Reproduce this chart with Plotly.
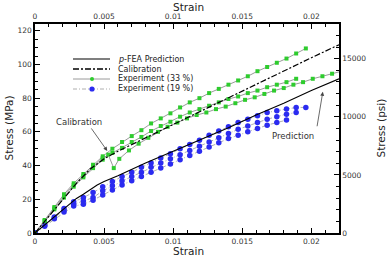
import plotly.graph_objects as go

# ---------------- data ----------------
pred_strain = [0, 0.001, 0.002, 0.003, 0.0035, 0.004, 0.0045, 0.005, 0.006, 0.008, 0.010, 0.012, 0.014, 0.016, 0.018, 0.020, 0.022]
pred_stress = [0, 7, 14, 20.5, 23, 26, 28.5, 30.5, 34, 41.5, 48.5, 55.5, 62.5, 70, 77, 84.5, 91.5]

cal_strain = [0, 0.001, 0.002, 0.003, 0.004, 0.005, 0.006, 0.007, 0.008, 0.009, 0.010, 0.012, 0.014, 0.016, 0.018, 0.020, 0.022]
cal_stress = [0, 10, 20, 29.5, 38, 44, 48.5, 52.5, 56.5, 60.5, 64.5, 72.3, 80, 88, 96, 104, 111.7]

g1_strain = [0, 0.0007, 0.0014, 0.0021, 0.0028, 0.0035, 0.0042, 0.0049, 0.0056, 0.0063, 0.0070, 0.0077, 0.0084, 0.0091,
             0.0098, 0.0105, 0.0112, 0.0119, 0.0126, 0.0133, 0.0140, 0.0147, 0.0154, 0.0161, 0.0168, 0.0175, 0.0182, 0.0189, 0.0196]
g1_stress = [0, 7.7, 15.4, 23, 29.5, 35, 40.5, 45.5, 50, 54, 57.5, 61, 65, 68,
             71, 74.5, 77.5, 80, 83, 85.5, 88, 90.5, 93, 96, 98.5, 101, 103.5, 106.5, 109.5]

g2_strain = [0, 0.0007, 0.0014, 0.0021, 0.0028, 0.0035, 0.0042, 0.0049, 0.0056, 0.0063, 0.0070, 0.0077, 0.0084, 0.0091,
             0.0098, 0.0105, 0.0112, 0.0119, 0.0126, 0.0133, 0.0140, 0.0147, 0.0154, 0.0161, 0.0168, 0.0175, 0.0182, 0.0189]
g2_stress = [0, 7.3, 14.7, 22, 28.5, 34, 39.5, 44.5, 47.5, 50.5, 54, 57, 60.5, 63.5,
             66, 69, 71.5, 73.5, 75.5, 77.5, 79.5, 81, 83, 84.5, 86.5, 88, 89.5, 91.5]

g3_strain = [0, 0.0007, 0.0014, 0.0021, 0.0028, 0.0035, 0.0042, 0.0049, 0.0053, 0.0057, 0.0061, 0.0068, 0.0075, 0.0082,
             0.0089, 0.0096, 0.0103, 0.0110, 0.0117, 0.0124, 0.0131, 0.0138, 0.0145, 0.0152, 0.0159, 0.0166, 0.0173,
             0.0180, 0.0187, 0.0194, 0.0201, 0.0208, 0.0215, 0.0222]
g3_stress = [0, 7, 14, 21, 27.5, 33, 38.5, 43.5, 46.5, 38.5, 44, 49, 53, 56.5,
             60, 63, 65.5, 68, 70, 71.5, 73.5, 75, 77, 79, 80.5, 82.5, 84.5,
             86, 88, 89.5, 91.5, 93, 94.5, 96]

b1_strain = [0, 0.0007, 0.0014, 0.0021, 0.0028, 0.0035, 0.0042, 0.0049, 0.0056, 0.0063, 0.0070, 0.0077, 0.0084, 0.0091,
             0.0098, 0.0105, 0.0112, 0.0119, 0.0126, 0.0133, 0.0140, 0.0147, 0.0154, 0.0161, 0.0168, 0.0175, 0.0182, 0.0189, 0.0196]
b1_stress = [0, 5, 9.5, 14.5, 18.5, 21, 24, 27.5, 30.5, 33.5, 36, 39, 41.5, 44.5,
             47, 50, 52.5, 55, 58, 60.5, 63, 65.5, 67.5, 69.5, 71.5, 72.5, 73.5, 74.5, 74.5]

b2_strain = [0, 0.0007, 0.0014, 0.0021, 0.0028, 0.0035, 0.0042, 0.0049, 0.0056, 0.0063, 0.0070, 0.0077, 0.0084, 0.0091,
             0.0098, 0.0105, 0.0112, 0.0119, 0.0126, 0.0133, 0.0140, 0.0147, 0.0154, 0.0161, 0.0168, 0.0175, 0.0182, 0.0189]
b2_stress = [0, 4.5, 9, 13.5, 17, 19, 21, 25, 28, 31, 33.5, 36, 39, 41.5,
             44, 46.5, 49, 51.5, 54, 56.5, 59, 61.5, 63.5, 65.5, 67.5, 69, 70.5, 71.5]

b3_strain = [0, 0.0007, 0.0014, 0.0021, 0.0028, 0.0035, 0.0042, 0.0049, 0.0056, 0.0063, 0.0070, 0.0077, 0.0084, 0.0091,
             0.0098, 0.0105, 0.0112, 0.0119, 0.0126, 0.0133, 0.0140, 0.0147, 0.0154, 0.0161, 0.0168, 0.0175, 0.0182]
b3_stress = [0, 4, 8.5, 12.5, 16, 17, 19.5, 22.5, 25.5, 28.5, 31, 33.5, 36, 38.5,
             41, 43.5, 46, 48.5, 51, 53.5, 56, 58, 60, 62, 64, 65.5, 67]

x_ticks = [0, 0.005, 0.01, 0.015, 0.02]
x_ticklabels = ["0", "0.005", "0.01", "0.015", "0.02"]
y_ticks = [0, 20, 40, 60, 80, 100, 120]
psi_ticks = [0, 5000, 10000, 15000]
psi_ticklabels = ["0", "5000", "10000", "15000"]
MPA_TO_PSI = 145.038
Y_MAX = 124
X_MAX = 0.022

legend_labels = ["<i>p</i>-FEA Prediction", "Calibration", "Experiment (33 %)", "Experiment (19 %)"]

# ---------------- figure ----------------
FONT = "DejaVu Sans"
GREEN = "#2ecc2e"
BLUE = "#2b2bf0"
GREYLINE = "#9a9a9a"

fig = go.Figure()

for xs, ys in [(b1_strain, b1_stress), (b2_strain, b2_stress), (b3_strain, b3_stress)]:
    fig.add_trace(go.Scatter(x=xs, y=ys, mode="lines+markers",
                             line=dict(color=GREYLINE, width=0.8, dash="4px,2px,1px,2px"),
                             marker=dict(color=BLUE, size=5.5, line=dict(width=0)),
                             showlegend=False, hoverinfo="skip"))

for xs, ys in [(g1_strain, g1_stress), (g2_strain, g2_stress), (g3_strain, g3_stress)]:
    fig.add_trace(go.Scatter(x=xs, y=ys, mode="lines+markers",
                             line=dict(color=GREYLINE, width=1),
                             marker=dict(color=GREEN, size=4, symbol="square", line=dict(width=0)),
                             showlegend=False, hoverinfo="skip"))

fig.add_trace(go.Scatter(x=pred_strain, y=pred_stress, mode="lines", line=dict(color="black", width=1.1),
                         showlegend=False, hoverinfo="skip"))
fig.add_trace(go.Scatter(x=cal_strain, y=cal_stress, mode="lines",
                         line=dict(color="black", width=1.2, dash="6px,2px,2px,2px"),
                         showlegend=False, hoverinfo="skip"))
# secondary axes carrier
fig.add_trace(go.Scatter(x=[0, X_MAX], y=[0, Y_MAX * MPA_TO_PSI], xaxis="x2", yaxis="y2", mode="markers",
                         marker=dict(opacity=0), showlegend=False, hoverinfo="skip"))

tickfont = dict(family=FONT, size=7.5, color="#333333")
common = dict(showgrid=False, zeroline=False, showline=True, linecolor="black", linewidth=1.5,
              ticks="inside", ticklen=5, tickwidth=1, tickcolor="black", tickfont=tickfont)

fig.update_layout(
    width=387, height=257,
    margin=dict(l=35, r=48, t=24, b=24),
    paper_bgcolor="white", plot_bgcolor="white",
    xaxis=dict(range=[0, X_MAX], tickvals=x_ticks, ticktext=x_ticklabels,
               minor=dict(dtick=0.001, tick0=0, ticks="inside", ticklen=3, tickcolor="black"), **common),
    xaxis2=dict(range=[0, X_MAX], overlaying="x", side="top", anchor="y", tickvals=x_ticks, ticktext=x_ticklabels,
                minor=dict(dtick=0.001, tick0=0, ticks="inside", ticklen=3, tickcolor="black"), **common),
    yaxis=dict(range=[0, Y_MAX], tickvals=y_ticks,
               minor=dict(dtick=5, tick0=0, ticks="inside", ticklen=3, tickcolor="black"), **common),
    yaxis2=dict(range=[0, Y_MAX * MPA_TO_PSI], overlaying="y", side="right", anchor="x",
                tickvals=psi_ticks, ticktext=psi_ticklabels,
                minor=dict(dtick=1000, tick0=0, ticks="inside", ticklen=3, tickcolor="black"), **common),
    showlegend=False,
)

# axis titles
titlefont = dict(family=FONT, size=10.5, color="#222222")
fig.add_annotation(text="Strain", xref="paper", yref="paper", x=0.505, y=1.0, yshift=17,
                   showarrow=False, font=titlefont, xanchor="center", yanchor="middle")
fig.add_annotation(text="Strain", xref="paper", yref="paper", x=0.505, y=0.0, yshift=-18,
                   showarrow=False, font=titlefont, xanchor="center", yanchor="middle")
fig.add_annotation(text="Stress (MPa)", xref="paper", yref="paper", x=0.0, xshift=-27, y=0.5,
                   textangle=-90, showarrow=False, font=titlefont, xanchor="center", yanchor="middle")
fig.add_annotation(text="Stress (psi)", xref="paper", yref="paper", x=1.0, xshift=41, y=0.5,
                   textangle=-90, showarrow=False, font=titlefont, xanchor="center", yanchor="middle")

# legend (manual)
legfont = dict(family=FONT, size=8, color="#222222")
row_y = [59, 69, 79, 89]  # pixel rows
plot_top, plot_h, plot_l, plot_w = 24, 209, 35, 304
def py(p):
    return 1 - (p - plot_top) / plot_h
def px(p):
    return (p - plot_l) / plot_w
styles = [dict(color="black", width=1.1, dash="solid"),
          dict(color="black", width=1.3, dash="6px,2px,2px,2px"),
          dict(color=GREYLINE, width=1, dash="solid"),
          dict(color=GREYLINE, width=0.8, dash="4px,2px,1px,2px")]
for i, (lab, st) in enumerate(zip(legend_labels, styles)):
    fig.add_shape(type="line", xref="paper", yref="paper", x0=px(73), x1=px(110), y0=py(row_y[i]), y1=py(row_y[i]),
                  line=st)
    fig.add_annotation(text=lab, xref="paper", yref="paper", x=px(116), y=py(row_y[i]), xanchor="left",
                       yanchor="middle", showarrow=False, font=legfont)
for i, col, r in [(2, GREEN, 2), (3, BLUE, 2.6)]:
    fig.add_shape(type="circle", xref="paper", yref="paper", x0=px(92 - r), x1=px(92 + r),
                  y0=py(row_y[i] + r), y1=py(row_y[i] - r), fillcolor=col, line=dict(width=0))

# callouts
annfont = dict(family=FONT, size=8.5, color="#333333")
fig.add_annotation(text="Calibration", xref="paper", yref="paper", x=px(79), y=py(122), showarrow=False,
                   font=annfont, xanchor="center", yanchor="middle")
fig.add_annotation(text="", x=0.00523, y=48.7, xref="x", yref="y", ax=-17, ay=-24, showarrow=True,
                   arrowhead=2, arrowsize=1, arrowwidth=0.8, arrowcolor="#444444")
fig.add_annotation(text="Prediction", xref="paper", yref="paper", x=px(293), y=py(136), showarrow=False,
                   font=annfont, xanchor="center", yanchor="middle")
fig.add_annotation(text="", x=0.02083, y=83.8, xref="x", yref="y", ax=-6, ay=36, showarrow=True,
                   arrowhead=2, arrowsize=1, arrowwidth=0.8, arrowcolor="#444444")

fig.write_html("out.html", config={"displayModeBar": False},
               post_script="document.body.style.margin='0';document.body.style.padding='0';")
